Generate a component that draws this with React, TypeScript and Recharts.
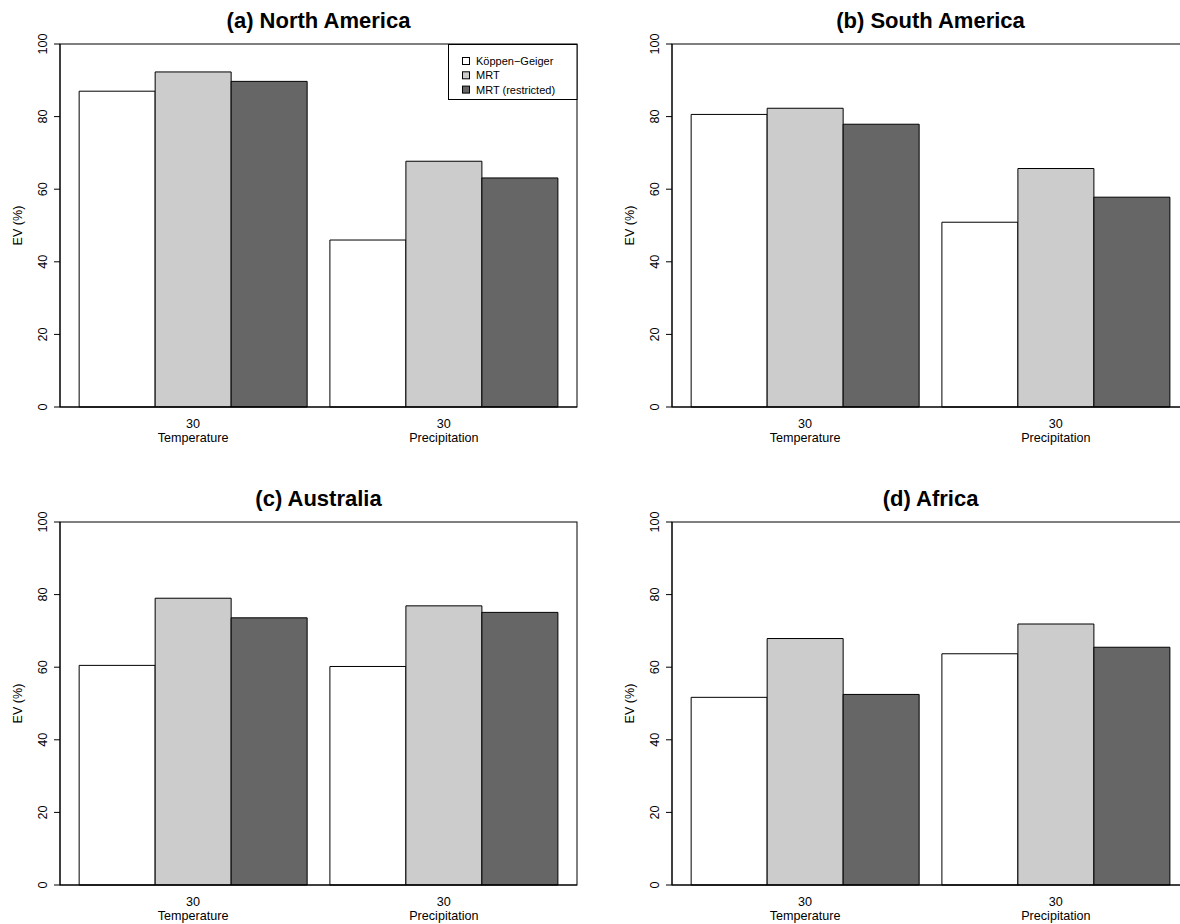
import { Bar, BarChart, XAxis, YAxis } from "recharts";

// x categories (two groups per panel) and the resolution shown above each name
const CATEGORIES = ["Temperature", "Precipitation"];
const RESOLUTION_LABELS = ["30", "30"];
const Y_TICKS = [0, 20, 40, 60, 80, 100];

// EV (%) values, [Temperature, Precipitation]
const NORTH_AMERICA_KG = [87.0, 46.0];
const NORTH_AMERICA_MRT = [92.3, 67.7];
const NORTH_AMERICA_MRT_R = [89.7, 63.1];

const SOUTH_AMERICA_KG = [80.6, 50.9];
const SOUTH_AMERICA_MRT = [82.3, 65.7];
const SOUTH_AMERICA_MRT_R = [77.9, 57.8];

const AUSTRALIA_KG = [60.5, 60.2];
const AUSTRALIA_MRT = [79.0, 76.9];
const AUSTRALIA_MRT_R = [73.6, 75.1];

const AFRICA_KG = [51.7, 63.7];
const AFRICA_MRT = [67.9, 71.9];
const AFRICA_MRT_R = [52.5, 65.5];

const SERIES = [
  { key: "kg", name: "Köppen\u2212Geiger", fill: "#ffffff" },
  { key: "mrt", name: "MRT", fill: "#cccccc" },
  { key: "mrtr", name: "MRT (restricted)", fill: "#666666" },
];

const PANELS = [
  { title: "(a) North America", values: [NORTH_AMERICA_KG, NORTH_AMERICA_MRT, NORTH_AMERICA_MRT_R], col: 0, row: 0, legend: true },
  { title: "(b) South America", values: [SOUTH_AMERICA_KG, SOUTH_AMERICA_MRT, SOUTH_AMERICA_MRT_R], col: 1, row: 0, legend: false },
  { title: "(c) Australia", values: [AUSTRALIA_KG, AUSTRALIA_MRT, AUSTRALIA_MRT_R], col: 0, row: 1, legend: false },
  { title: "(d) Africa", values: [AFRICA_KG, AFRICA_MRT, AFRICA_MRT_R], col: 1, row: 1, legend: false },
];

const FONT = "'Liberation Sans', Arial, Helvetica, sans-serif";
const PANEL_W = 612;
const PANEL_H = 478;
const PLOT_LEFT = 60;
const PLOT_TOP = 44;
const PLOT_RIGHT_GAP = 35;
const PLOT_BOTTOM = 407;
const AXIS_FONT = 12.6;

function YTick({ x, y, payload }: any) {
  return (
    <text
      x={x}
      y={y}
      transform={`rotate(-90 ${x} ${y})`}
      textAnchor="middle"
      fontSize={AXIS_FONT}
      fontFamily={FONT}
      fill="#000"
    >
      {payload.value}
    </text>
  );
}

function XTick({ x, payload, index }: any) {
  return (
    <g>
      <text x={x} y={PLOT_BOTTOM + 21} textAnchor="middle" fontSize={AXIS_FONT} fontFamily={FONT} fill="#000">
        {RESOLUTION_LABELS[index]}
      </text>
      <text x={x} y={PLOT_BOTTOM + 35} textAnchor="middle" fontSize={AXIS_FONT} fontFamily={FONT} fill="#000">
        {payload.value}
      </text>
    </g>
  );
}

function Panel({ panel }: { panel: (typeof PANELS)[number] }) {
  const rows = CATEGORIES.map((category, i) => {
    const row: Record<string, string | number> = { category };
    SERIES.forEach((s, j) => {
      row[s.key] = panel.values[j][i];
    });
    return row;
  });
  const plotRight = PANEL_W - PLOT_RIGHT_GAP;

  return (
    <div
      style={{
        position: "absolute",
        left: panel.col * PANEL_W,
        top: panel.row * PANEL_H,
        width: PANEL_W,
        height: PANEL_H,
      }}
    >
      <BarChart
        width={PANEL_W}
        height={PANEL_H}
        data={rows}
        margin={{ top: PLOT_TOP, right: PLOT_RIGHT_GAP, bottom: 0, left: 0 }}
        barCategoryGap={11.4}
        barGap={0}
      >
        <XAxis
          dataKey="category"
          height={PANEL_H - PLOT_BOTTOM}
          interval={0}
          padding={{ left: 7.75, right: 7.75 }}
          axisLine={{ stroke: "#000" }}
          tickLine={false}
          tick={<XTick />}
        />
        <YAxis
          domain={[0, 100]}
          ticks={Y_TICKS}
          width={PLOT_LEFT}
          tickSize={6}
          tickMargin={7}
          axisLine={{ stroke: "#000" }}
          tickLine={{ stroke: "#000" }}
          tick={<YTick />}
        />
        {SERIES.map((s) => (
          <Bar
            key={s.key}
            dataKey={s.key}
            name={s.name}
            fill={s.fill}
            stroke="#000"
            strokeWidth={1}
            isAnimationActive={false}
          />
        ))}
      </BarChart>

      <svg
        width={PANEL_W}
        height={PANEL_H}
        style={{ position: "absolute", left: 0, top: 0, pointerEvents: "none" }}
      >
        {/* plot box */}
        <rect
          x={PLOT_LEFT}
          y={PLOT_TOP}
          width={plotRight - PLOT_LEFT}
          height={PLOT_BOTTOM - PLOT_TOP}
          fill="none"
          stroke="#000"
        />
        <text
          x={(PLOT_LEFT + plotRight) / 2}
          y={28}
          textAnchor="middle"
          fontSize={22}
          fontWeight="bold"
          fontFamily={FONT}
          fill="#000"
        >
          {panel.title}
        </text>
        <text
          transform={`translate(22 ${(PLOT_TOP + PLOT_BOTTOM) / 2}) rotate(-90)`}
          textAnchor="middle"
          fontSize={AXIS_FONT}
          fontFamily={FONT}
          fill="#000"
        >
          EV (%)
        </text>
        {panel.legend && (
          <g>
            <rect x={448.5} y={44.5} width={128.5} height={55} fill="#fff" stroke="#000" />
            {SERIES.map((s, i) => (
              <g key={s.key}>
                <rect x={462.5} y={57.5 + i * 14.3} width={7} height={7} fill={s.fill} stroke="#000" />
                <text x={476} y={65 + i * 14.3} fontSize={11} fontFamily={FONT} fill="#000">
                  {s.name}
                </text>
              </g>
            ))}
          </g>
        )}
      </svg>
    </div>
  );
}

export default function App() {
  return (
    <div
      style={{
        position: "absolute",
        left: 0,
        top: 0,
        width: 1180,
        height: 924,
        overflow: "hidden",
        background: "#fff",
        fontFamily: FONT,
      }}
    >
      {PANELS.map((panel) => (
        <Panel key={panel.title} panel={panel} />
      ))}
    </div>
  );
}
